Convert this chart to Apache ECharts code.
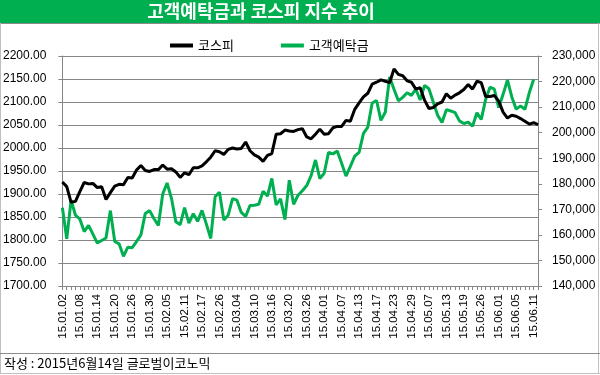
<!DOCTYPE html>
<html><head><meta charset="utf-8">
<script src="https://cdn.jsdelivr.net/npm/echarts@6/dist/echarts.min.js"></script>
<style>html,body{margin:0;padding:0;background:#fff}#c{width:600px;height:375px}</style>
</head><body><div id="c"></div>
<script>
const dates = [
"15.01.02","15.01.05","15.01.06","15.01.07","15.01.08","15.01.09","15.01.12","15.01.13","15.01.14","15.01.15","15.01.16","15.01.19","15.01.20","15.01.21","15.01.22","15.01.23","15.01.26","15.01.27","15.01.28","15.01.29","15.01.30",
"15.02.02","15.02.03","15.02.04","15.02.05","15.02.06","15.02.09","15.02.10","15.02.11","15.02.12","15.02.13","15.02.16","15.02.17","15.02.23","15.02.24","15.02.25","15.02.26","15.02.27",
"15.03.02","15.03.03","15.03.04","15.03.05","15.03.06","15.03.09","15.03.10","15.03.11","15.03.12","15.03.13","15.03.16","15.03.17","15.03.18","15.03.19","15.03.20","15.03.23","15.03.24","15.03.25","15.03.26","15.03.27","15.03.30","15.03.31",
"15.04.01","15.04.02","15.04.03","15.04.06","15.04.07","15.04.08","15.04.09","15.04.10","15.04.13","15.04.14","15.04.15","15.04.16","15.04.17","15.04.20","15.04.21","15.04.22","15.04.23","15.04.24","15.04.27","15.04.28","15.04.29","15.04.30",
"15.05.04","15.05.06","15.05.07","15.05.08","15.05.11","15.05.12","15.05.13","15.05.14","15.05.15","15.05.18","15.05.19","15.05.20","15.05.21","15.05.22","15.05.26","15.05.27","15.05.28","15.05.29",
"15.06.01","15.06.02","15.06.03","15.06.04","15.06.05","15.06.08","15.06.09","15.06.10","15.06.11","15.06.12"
];
const kospi = [
1926,1916,1882,1884,1905,1925,1922,1923,1914,1916,
1888,1903,1917,1921,1920,1936,1935,1952,1962,1951,
1949,1953,1953,1963,1954,1955,1948,1936,1946,1942,
1957,1957,1961,1970,1980,1994,1992,1986,1997,2000,
1998,1999,2013,1994,1985,1980,1971,1984,1988,2030,
2031,2039,2037,2036,2040,2042,2024,2020,2030,2041,
2030,2031,2044,2047,2047,2060,2058,2084,2098,2111,
2119,2139,2143,2148,2145,2142,2172,2160,2157,2146,
2143,2128,2131,2104,2086,2088,2096,2100,2118,2108,
2115,2120,2127,2138,2128,2145,2142,2112,2112,2114,
2102,2078,2065,2071,2069,2064,2058,2052,2055,2051
];
const deposit = [
170600,158500,173600,167700,166200,161300,163700,160300,156800,157800,
158800,169500,157400,156500,151600,155200,155000,157400,160000,168400,
169500,166300,163700,176000,180300,174300,165100,164000,170700,164600,
168300,165300,169600,164200,158600,174900,176700,165800,167700,174200,
173600,168800,167200,171500,171600,172000,177100,175200,182100,171700,
174100,166000,181400,172000,175500,177300,179300,183200,189300,182000,
184100,192300,191700,192800,188000,183000,186800,190800,192300,199700,
202200,211600,212600,204800,208000,221800,217000,212500,213800,215600,
214600,217000,212800,218500,217200,212000,206800,204000,209000,208500,
207800,204600,203600,204100,202500,207800,205200,213000,217800,217000,
209800,215000,220600,214000,209200,210500,209100,215600,220800,null
];
const seriesNames = ['코스피', '고객예탁금'];
const titleText = '고객예탁금과 코스피 지수 추이';
const noteText = '작성 : 2015년6월14일 글로벌이코노믹';

const chart = echarts.init(document.getElementById('c'), null, {renderer: 'canvas'});
const numFont = 'Liberation Sans, Arial, sans-serif';
const krFont = 'Noto Sans CJK KR, sans-serif';
chart.setOption({
  animation: false,
  backgroundColor: '#fff',
  graphic: [
    {type: 'rect', shape: {x: 0, y: 0, width: 600, height: 23}, style: {fill: '#00B050'}, z: 0},
    {type: 'line', shape: {x1: 0, y1: 23.5, x2: 600, y2: 23.5}, style: {stroke: '#8c8c8c', lineWidth: 1}},
    {type: 'line', shape: {x1: 0.5, y1: 23, x2: 0.5, y2: 373}, style: {stroke: '#bfbfbf', lineWidth: 1}},
    {type: 'line', shape: {x1: 598.5, y1: 23, x2: 598.5, y2: 373}, style: {stroke: '#bfbfbf', lineWidth: 1}},
    {type: 'line', shape: {x1: 0, y1: 353.5, x2: 600, y2: 353.5}, style: {stroke: '#8c8c8c', lineWidth: 1}},
    {type: 'line', shape: {x1: 0, y1: 373.5, x2: 600, y2: 373.5}, style: {stroke: '#bfbfbf', lineWidth: 1}},
    {type: 'text', style: {text: titleText, fill: '#fff', font: 'bold 18px ' + krFont, textAlign: 'center', textVerticalAlign: 'middle'}, position: [261, 11.5]},
    {type: 'text', style: {text: noteText, fill: '#000', font: '13px ' + krFont, textVerticalAlign: 'middle'}, position: [4, 363]}
  ],
  legend: {
    left: 165, top: 34, itemWidth: 23, itemHeight: 4, itemGap: 47, icon: 'rect',
    textStyle: {fontSize: 13, color: '#000', fontFamily: krFont},
    data: seriesNames
  },
  grid: {left: 60, right: 62, top: 56, bottom: 89, containLabel: false},
  xAxis: {
    type: 'category', data: dates, boundaryGap: false,
    axisLine: {lineStyle: {color: '#868686', width: 1}},
    axisTick: {interval: 0, length: 4, lineStyle: {color: '#868686'}},
    axisLabel: {interval: 3, rotate: 90, fontSize: 11.5, color: '#000', fontFamily: numFont, margin: 8}
  },
  yAxis: [
    {type: 'value', min: 1700, max: 2200, interval: 50, position: 'left',
     axisLine: {show: true, lineStyle: {color: '#868686'}},
     axisTick: {show: true, length: 4, lineStyle: {color: '#868686'}},
     axisLabel: {formatter: v => v.toFixed(2), fontSize: 12, color: '#000', fontFamily: numFont, margin: 16},
     splitLine: {show: true, lineStyle: {color: '#868686', width: 1}}},
    {type: 'value', min: 140000, max: 230000, interval: 10000, position: 'right',
     axisLine: {show: true, lineStyle: {color: '#868686'}},
     axisTick: {show: true, length: 4, lineStyle: {color: '#868686'}},
     axisLabel: {formatter: v => v.toLocaleString('en-US'), fontSize: 12, color: '#000', fontFamily: numFont, margin: 14},
     splitLine: {show: false}}
  ],
  series: [
    {name: seriesNames[0], type: 'line', yAxisIndex: 0, data: kospi, showSymbol: false,
     lineStyle: {color: '#000', width: 3}, itemStyle: {color: '#000'}, z: 3},
    {name: seriesNames[1], type: 'line', yAxisIndex: 1, data: deposit, showSymbol: false,
     lineStyle: {color: '#00B050', width: 3}, itemStyle: {color: '#00B050'}, z: 2}
  ]
});
</script></body></html>
